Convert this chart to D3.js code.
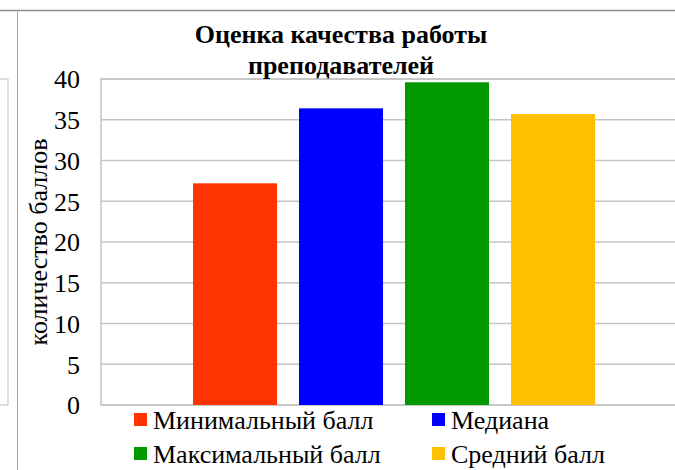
<!DOCTYPE html>
<html>
<head>
  <meta charset="utf-8">
  <script type="text/javascript" src="https://d3js.org/d3.v7.min.js"></script>
  <style>
    body { margin: 0; background: #ffffff; }
  </style>
</head>
<body>
  <svg id="canvas" width="675" height="470"></svg>
</body>
<script>
  // chart data
  const titleLines = ["Оценка качества работы", "преподавателей"];
  const yTitle = "количество баллов";
  const seriesNames = ["Минимальный балл", "Медиана", "Максимальный балл", "Средний балл"];
  const seriesValues = [27.2, 36.4, 39.6, 35.7];
  const seriesColors = ["#ff3300", "#0000ff", "#009900", "#ffc000"];
  const yTicks = [0, 5, 10, 15, 20, 25, 30, 35, 40];

  const font = "Liberation Serif";
  let svg = d3.select("svg");

  const plot = { left: 101, top: 79, right: 687, bottom: 405 };

  // frame of the surrounding document (cut off in the screenshot)
  svg.append("line")
      .attr("x1", 0).attr("x2", 675).attr("y1", 10.5).attr("y2", 10.5)
      .attr("stroke", "#8c8c8c").attr("stroke-width", 1.5);
  svg.append("line")
      .attr("x1", 17.5).attr("x2", 17.5).attr("y1", 10).attr("y2", 470)
      .attr("stroke", "#a6a6a6").attr("stroke-width", 1);
  // edge of the neighbouring chart on the left
  svg.append("rect")
      .attr("x", -20).attr("y", 79).attr("width", 28).attr("height", 326)
      .attr("fill", "none").attr("stroke", "#bfbfbf").attr("stroke-width", 1);

  const y = d3.scaleLinear()
      .domain([0, 40])
      .range([plot.bottom, plot.top]);

  // single category, four series side by side
  const center = (plot.left + plot.right) / 2;
  const x = d3.scaleBand()
      .domain(seriesNames)
      .range([center - 212, center + 212])
      .paddingInner(0.2075)
      .paddingOuter(0.10375);

  // gridlines
  svg.append("g")
      .selectAll("line")
      .data(yTicks)
      .join("line")
      .attr("x1", plot.left).attr("x2", plot.right)
      .attr("y1", d => y(d)).attr("y2", d => y(d))
      .attr("stroke", "#c4c4c4").attr("stroke-width", 1.5);

  // plot area border
  svg.append("rect")
      .attr("x", plot.left).attr("y", plot.top)
      .attr("width", plot.right - plot.left).attr("height", plot.bottom - plot.top)
      .attr("fill", "none").attr("stroke", "#c4c4c4").attr("stroke-width", 1.5);

  // bars
  svg.append("g")
      .selectAll("rect")
      .data(seriesValues)
      .join("rect")
      .attr("x", (d, i) => x(seriesNames[i]))
      .attr("width", x.bandwidth())
      .attr("y", d => y(d))
      .attr("height", d => y(0) - y(d))
      .attr("fill", (d, i) => seriesColors[i]);

  // y axis labels, right aligned by hand (start anchor keeps the serif face)
  const yAxis = d3.axisLeft(y).tickValues(yTicks).tickSize(0).tickPadding(21);
  const gy = svg.append("g")
      .attr("transform", `translate(${plot.left},0)`)
      .call(yAxis)
      .attr("font-family", font)
      .attr("font-size", 26)
      .attr("text-anchor", null);
  gy.select(".domain").remove();
  gy.selectAll("text")
      .attr("fill", "#000")
      .attr("text-anchor", "start")
      .attr("dy", "0.34em")
      .attr("x", function() { return -21 - this.getComputedTextLength(); });

  // y axis title
  const yt = svg.append("text")
      .attr("font-family", font)
      .attr("font-size", 26)
      .attr("fill", "#000")
      .text(yTitle);
  const ytLen = yt.node().getComputedTextLength();
  yt.attr("transform", `translate(47,${242 + ytLen / 2}) rotate(-90)`);

  // title
  svg.append("g")
      .selectAll("text")
      .data(titleLines)
      .join("text")
      .attr("y", (d, i) => 43 + i * 31)
      .attr("font-family", font)
      .attr("font-size", 26)
      .attr("font-weight", "bold")
      .attr("fill", "#000")
      .text(d => d)
      .attr("x", function() { return 341 - this.getComputedTextLength() / 2; });

  // legend, two columns by two rows
  const legendX = [134, 432];
  const legendY = [413, 447];
  const legend = svg.append("g")
      .selectAll("g")
      .data(seriesNames)
      .join("g")
      .attr("transform", (d, i) => `translate(${legendX[i % 2]},${legendY[Math.floor(i / 2)]})`);
  legend.append("rect")
      .attr("width", 13).attr("height", 13)
      .attr("fill", (d, i) => seriesColors[i]);
  legend.append("text")
      .attr("x", 19).attr("y", 16)
      .attr("font-family", font)
      .attr("font-size", 26)
      .attr("fill", "#000")
      .text(d => d);
</script>
</html>
